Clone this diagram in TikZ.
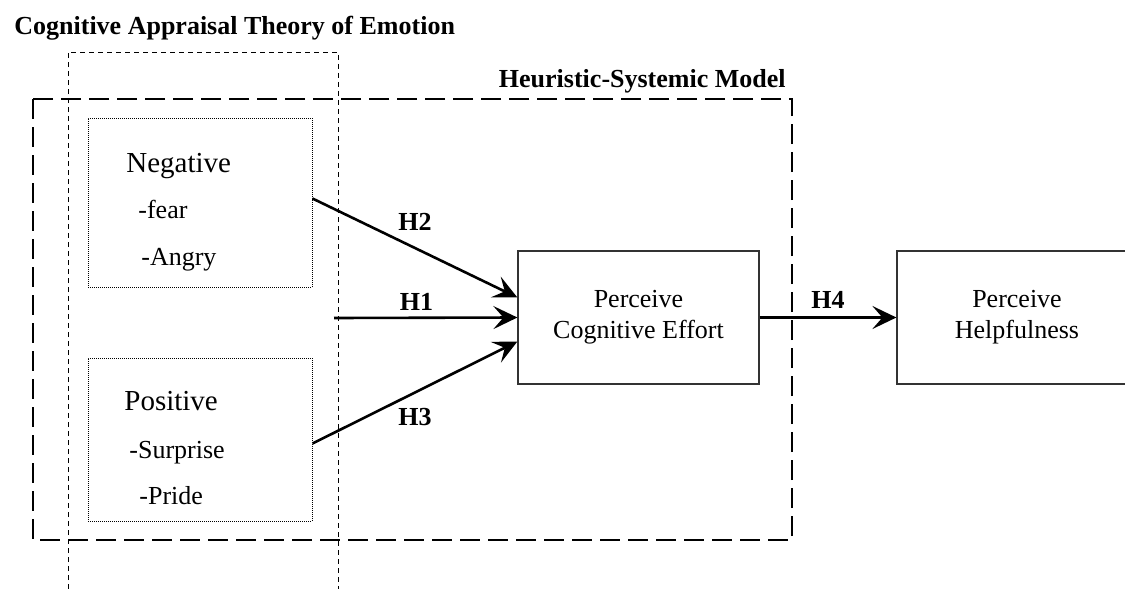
\documentclass[tikz,border=0pt]{standalone}
\usepackage{fontspec}
\setmainfont{Liberation Serif}
\usetikzlibrary{arrows.meta}

\begin{document}
\begin{tikzpicture}
    [
        x=0.5pt, y=-0.5pt,
        frame0_style/.style={draw=black, line width=0.5pt, dash pattern=on 2.5pt off 2pt},
        frame1_style/.style={draw=black, line width=1pt, dash pattern=on 10pt off 4pt},
        emo_style/.style={draw=black, line width=0.5pt, dash pattern=on 0.5pt off 0.5pt, minimum width=112pt},
        var_style/.style={draw=black!80, line width=0.6pt, minimum width=120.5pt, minimum height=66.5pt,
            align=center, font=\fontsize{13}{15.5}\selectfont},
        head_style/.style={inner sep=0pt, anchor=base west, font=\fontsize{14.5}{17}\selectfont},
        item_style/.style={inner sep=0pt, anchor=base west, font=\fontsize{13}{15.5}\selectfont},
        title_style/.style={inner sep=0pt, font=\bfseries\fontsize{13}{15.5}\selectfont},
        hyp_style/.style={draw=black, line width=1.3pt, -{Stealth[length=12pt, width=11.5pt, inset=5pt]}},
        hlabel_style/.style={inner sep=1pt, font=\bfseries\fontsize{13}{15.5}\selectfont}
    ]
        \useasboundingbox (0,0) rectangle (1125,589);
        \clip (0,0) rectangle (1125,589);

        % theory frames
        \draw[frame0_style] (68,589) |- (338,52) -- (338,589);
        \draw[frame1_style] (33,99) rectangle (792,540);
        \node[title_style, anchor=base west] (cat) at (14,34) {Cognitive Appraisal Theory of Emotion};
        \node[title_style, anchor=base east] (hsm) at (786,87) {Heuristic-Systemic Model};

        % emotions
        \node[emo_style, minimum height=84.5pt] (neg) at (200,202.5) {};
        \node[head_style] (negt) at (126,172) {Negative};
        \node[item_style] (fear) at (138,218) {-fear};
        \node[item_style] (angry) at (141,265) {-Angry};

        \node[emo_style, minimum height=81.5pt] (pos) at (200,439.5) {};
        \node[head_style] (post) at (124,410) {Positive};
        \node[item_style] (surprise) at (129,458) {-Surprise};
        \node[item_style] (pride) at (139,504) {-Pride};

        % outcomes
        \node[var_style] (effort) at (638.5,317.5) {Perceive\\Cognitive Effort};
        \node[var_style, minimum width=120pt] (help) at (1017,317.5) {Perceive\\Helpfulness};

        % hypotheses
        \coordinate (h1start) at (334,318);
        \draw ([yshift=2pt]neg.east) edge[hyp_style] node[hlabel_style, above=7pt, pos=0.5]{H2} ([yshift=10pt]effort.west);
        \draw (h1start) edge[hyp_style] node[hlabel_style, above=2pt, pos=0.45]{H1} (effort.west);
        \draw ([yshift=-2pt]pos.east) edge[hyp_style] node[hlabel_style, below=6pt, pos=0.5]{H3} ([yshift=-12pt]effort.west);
        \draw (effort) edge[hyp_style] node[hlabel_style, above=3pt]{H4} (help);
    \end{tikzpicture}
\end{document}
